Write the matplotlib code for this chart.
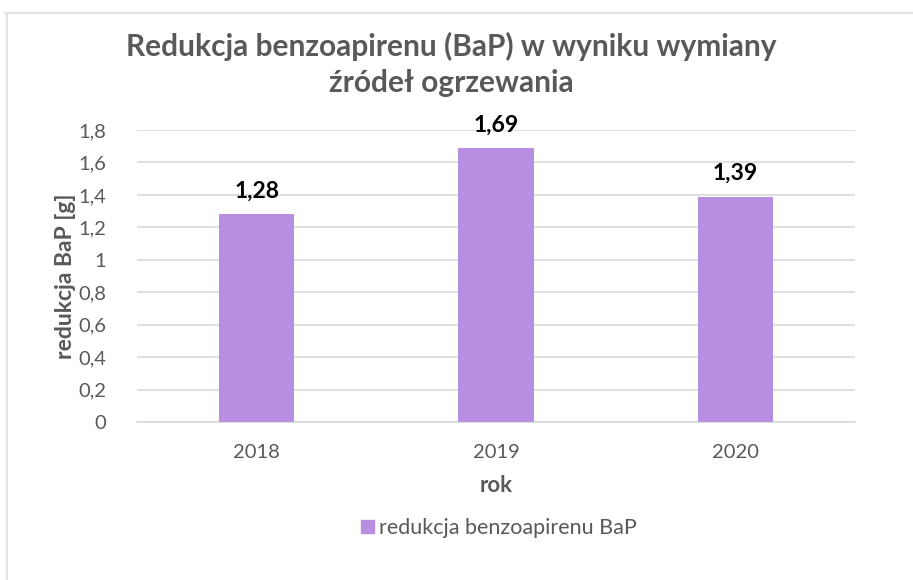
import matplotlib
matplotlib.use("Agg")
import matplotlib.pyplot as plt
from matplotlib.patches import Rectangle
from matplotlib.lines import Line2D

years = ["2018", "2019", "2020"]
values = [1.28, 1.69, 1.39]
labels = ["1,28", "1,69", "1,39"]
yticks = [0, 0.2, 0.4, 0.6, 0.8, 1.0, 1.2, 1.4, 1.6, 1.8]
ytick_labels = ["0", "0,2", "0,4", "0,6", "0,8", "1", "1,2", "1,4", "1,6", "1,8"]

plt.rcParams['font.family'] = ['Lato', 'DejaVu Sans']
GREY = "#595959"
BAR = "#b88ee0"

fig = plt.figure(figsize=(9.13, 5.8), dpi=100)
fig.patch.set_facecolor("white")
W, H = 913, 580
# light border (top and left)
fig.add_artist(Line2D([5 / W, 1], [1 - 13 / H, 1 - 13 / H], color="#e3e3e3", lw=1.5, transform=fig.transFigure))
fig.add_artist(Line2D([7 / W, 7 / W], [0, 1 - 13 / H], color="#e3e3e3", lw=1.5, transform=fig.transFigure))

ax = fig.add_axes([137 / W, 1 - 422 / H, (855 - 137) / W, (422 - 130) / H])
x = range(len(years))
ax.bar(x, values, width=0.315, color=BAR, zorder=3)
ax.set_xlim(-0.5, 2.5)
ax.set_ylim(0, 1.8)
ax.set_yticks(yticks)
ax.set_yticklabels(ytick_labels)
ax.set_xticks(list(x))
ax.set_xticklabels(years)
ax.yaxis.grid(True, color="#d9d9d9", lw=1.2, zorder=0)
for s in ["top", "right", "left"]:
    ax.spines[s].set_visible(False)
ax.spines["bottom"].set_color("#d9d9d9")
ax.spines["bottom"].set_linewidth(1.2)
ax.tick_params(axis="both", length=0, colors=GREY, labelsize=14.5)
ax.tick_params(axis="y", pad=22)
ax.tick_params(axis="x", pad=16)
for i, (v, l) in enumerate(zip(values, labels)):
    ax.annotate(l, (i, v), xytext=(0, 9), textcoords="offset points", ha="center", va="bottom",
                fontsize=16.5, fontweight="bold", color="black")

ax.set_ylabel("redukcja BaP [g]", fontsize=16.5, fontweight="bold", color=GREY, labelpad=2)
ax.set_xlabel("rok", fontsize=16, fontweight="bold", color=GREY, labelpad=10)

fig.text(451 / W, 1 - 46 / H, "Redukcja benzoapirenu (BaP) w wyniku wymiany", ha="center", va="center",
         fontsize=21.5, fontweight="bold", color=GREY)
fig.text(451 / W, 1 - 83 / H, "źródeł ogrzewania", ha="center", va="center",
         fontsize=21.5, fontweight="bold", color=GREY)

handle = Rectangle((0, 0), 1, 1, color=BAR)
fig.legend([handle], ["redukcja benzoapirenu BaP"], loc="center", bbox_to_anchor=(499 / W, 1 - 528 / H),
           frameon=False, fontsize=15.5, labelcolor=GREY, handlelength=0.6, handleheight=0.6,
           handletextpad=0.25)

fig.savefig("out.png", dpi=100, facecolor="white")
